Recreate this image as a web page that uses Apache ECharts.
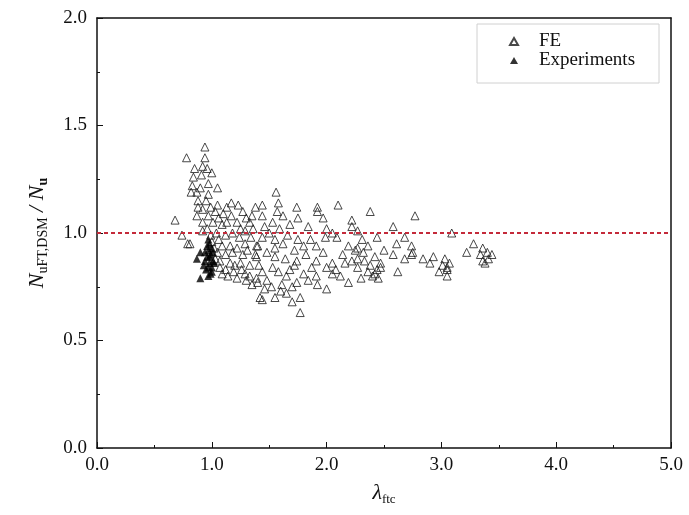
<!DOCTYPE html>
<html>
<head>
<meta charset="utf-8">
<script src="https://cdn.jsdelivr.net/npm/echarts@6.0.0/dist/echarts.min.js"></script>
<style>
  body { margin: 0; background: #fff; }
  #chart { width: 689px; height: 515px; }
</style>
</head>
<body>
<div id="chart"></div>
<script>
// FE results (lambda, ratio)
var feLambda = [
  0.68, 0.74, 0.81, 0.78, 0.94, 0.94, 0.85, 0.92, 0.84, 0.91, 1.00, 0.83, 0.97, 1.05, 0.87, 0.97,
  0.88, 0.88, 0.92, 1.05, 1.13, 1.23, 0.87, 0.97, 1.03, 1.10, 1.17, 1.30, 1.38, 0.92, 1.01, 1.09,
  1.22, 1.33, 0.92, 1.04, 1.18, 1.29, 0.79, 1.00, 1.09, 1.16, 1.29, 1.39, 1.05, 1.18, 1.27, 1.38,
  1.07, 1.16, 1.25, 1.33, 1.07, 1.12, 1.19, 1.26, 1.33, 1.39, 1.42,
  0.95, 0.99, 1.06, 1.13, 0.96, 1.12, 1.24, 1.34, 1.02, 1.12, 1.22, 1.31, 1.03, 1.20, 1.29, 1.14,
  1.22, 1.35, 1.30, 1.09, 1.17, 1.27, 1.35, 0.90, 0.96, 0.82, 0.99, 1.06, 1.25, 1.36, 1.41, 1.44, 1.46,
  1.56, 1.44, 1.58, 1.74, 1.92, 2.10, 1.57, 1.75, 1.92, 1.97, 2.22, 1.44, 1.53, 1.59, 1.68, 2.00,
  2.22, 1.44, 1.55, 1.66, 1.75, 1.86, 1.99, 2.09, 2.19, 1.40, 1.55, 1.72, 1.91, 1.97, 2.25, 1.39,
  1.55, 1.74, 1.91, 2.16, 2.22, 1.53, 1.72, 1.87, 2.00, 2.05, 1.48, 1.65, 1.74, 1.91, 2.12, 2.19,
  1.40, 1.61, 1.92, 2.00, 1.44, 1.55, 1.65, 1.77, 1.77,
  1.50, 1.62, 1.80, 1.48, 1.64, 1.82, 1.58, 1.68, 1.80, 1.52, 1.70, 1.84, 1.60, 2.05, 2.14, 1.46,
  1.62, 1.84, 2.05, 1.70, 2.08,
  2.38, 2.77, 2.58, 2.27, 2.44, 2.68, 3.09, 2.31, 2.61, 2.74, 2.27, 2.32, 2.58, 2.75, 2.27, 2.33,
  2.68, 2.74, 2.84, 2.93, 3.03, 2.27, 2.38, 2.44, 2.90, 3.01, 3.05, 2.40, 2.45, 2.62, 3.05,
  2.36, 2.42, 2.47, 2.36, 2.30, 2.50, 2.42, 2.98, 3.07, 2.47,
  3.28, 3.22, 3.36, 3.34, 3.40, 3.36, 3.41, 3.38, 3.44, 3.05
];
var feRatio = [
  1.06, 0.99, 0.95, 1.35, 1.40, 1.35, 1.30, 1.31, 1.26, 1.27, 1.28, 1.22, 1.23, 1.21, 1.19, 1.18,
  1.15, 1.12, 1.11, 1.13, 1.12, 1.13, 1.08, 1.08, 1.10, 1.09, 1.08, 1.07, 1.12, 1.05, 1.05, 1.04,
  1.05, 1.05, 1.01, 1.00, 1.00, 1.01, 0.95, 0.96, 0.94, 0.94, 0.95, 0.94, 0.91, 0.91, 0.90, 0.90,
  0.87, 0.86, 0.86, 0.85, 0.84, 0.83, 0.82, 0.83, 0.80, 0.79, 0.70,
  1.15, 1.12, 1.07, 1.05, 1.02, 0.99, 0.98, 0.98, 0.93, 0.90, 0.93, 0.92, 0.88, 0.85, 0.81, 0.80,
  0.79, 0.76, 0.78, 0.81, 1.14, 1.10, 1.08, 1.21, 1.30, 1.19, 0.99, 0.97, 1.02, 1.02, 0.85, 0.82, 0.74,
  1.19, 1.13, 1.14, 1.12, 1.12, 1.13, 1.10, 1.07, 1.10, 1.07, 1.06, 1.08, 1.05, 1.02, 1.04, 1.02,
  1.03, 0.98, 0.97, 0.99, 0.97, 0.97, 0.98, 0.98, 0.94, 0.94, 0.93, 0.92, 0.94, 0.91, 0.92, 0.89,
  0.89, 0.87, 0.87, 0.86, 0.87, 0.84, 0.85, 0.84, 0.84, 0.86, 0.78, 0.80, 0.77, 0.80, 0.80, 0.77,
  0.77, 0.76, 0.76, 0.74, 0.69, 0.70, 0.72, 0.70, 0.63,
  1.00, 0.95, 0.94, 0.91, 0.88, 0.90, 0.82, 0.83, 0.81, 0.75, 0.75, 0.78, 0.73, 0.81, 0.90, 1.03,
  1.08, 1.03, 1.00, 0.68, 0.83,
  1.10, 1.08, 1.03, 1.01, 0.98, 0.98, 1.00, 0.97, 0.95, 0.94, 0.93, 0.91, 0.90, 0.91, 0.88, 0.87,
  0.88, 0.90, 0.88, 0.89, 0.88, 0.84, 0.85, 0.83, 0.86, 0.85, 0.83, 0.80, 0.79, 0.82, 0.80,
  0.94, 0.89, 0.86, 0.82, 0.79, 0.92, 0.81, 0.82, 0.86, 0.84,
  0.95, 0.91, 0.93, 0.90, 0.91, 0.87, 0.88, 0.86, 0.90, 0.84
];
// test results
var expLambda = [
  0.90, 0.97, 0.87, 0.94, 0.98, 0.97, 1.00, 0.90, 0.97, 0.94, 0.98, 1.00,
  0.96, 0.97, 0.99, 1.01, 0.95, 0.93, 1.00, 0.99, 1.02, 0.96, 0.98, 1.01
];
var expRatio = [
  0.91, 0.92, 0.88, 0.87, 0.86, 0.84, 0.82, 0.79, 0.80, 0.91, 0.89, 0.84,
  0.94, 0.97, 0.90, 0.87, 0.83, 0.85, 0.93, 0.81, 0.86, 0.89, 0.95, 0.91
];
var xTicks = ['0.0', '1.0', '2.0', '3.0', '4.0', '5.0'];
var yTicks = ['0.0', '0.5', '1.0', '1.5', '2.0'];

function pairs(xs, ys) {
  var out = [];
  for (var i = 0; i < xs.length; i++) {
    out.push([xs[i], ys[i]]);
  }
  return out;
}

function initChart(dom) {
  var myChart = echarts.init(dom),
    serif = '"Liberation Serif", "DejaVu Serif", serif',
    option = {
      animation: false,
      backgroundColor: '#fff',
      textStyle: { fontFamily: serif },
      grid: { left: 97, right: 18, top: 18, bottom: 67 },
      legend: {
        orient: 'vertical',
        left: 477,
        top: 24,
        padding: [8, 24, 13, 32],
        borderColor: '#d0d0d0',
        borderWidth: 1,
        itemGap: 0,
        itemWidth: 8,
        itemHeight: 7,
        textStyle: { fontFamily: serif, fontSize: 19, color: '#111', padding: [0, 0, 0, 16] },
        data: ['FE', 'Experiments']
      },
      xAxis: [{
        type: 'value',
        min: 0,
        max: 5,
        interval: 1,
        name: '{l|λ}{s|ftc}',
        nameLocation: 'middle',
        nameGap: 32,
        nameTextStyle: {
          rich: {
            l: { fontFamily: serif, fontStyle: 'italic', fontSize: 22, color: '#111', lineHeight: 26 },
            s: { fontFamily: serif, fontSize: 13, color: '#111', verticalAlign: 'bottom', lineHeight: 14 }
          }
        },
        axisLine: { lineStyle: { color: '#111', width: 1.5 } },
        axisTick: { inside: true, length: 6, lineStyle: { color: '#111' } },
        minorTick: { show: true, splitNumber: 2, length: 3, lineStyle: { color: '#111' } },
        splitLine: { show: false },
        axisLabel: {
          margin: 8,
          fontSize: 19,
          color: '#111',
          formatter: function (v) { return xTicks[Math.round(v)]; }
        }
      }, {
        type: 'value',
        position: 'top',
        min: 0,
        max: 5,
        axisLine: { show: true, onZero: false, lineStyle: { color: '#111', width: 1.5 } },
        axisTick: { show: false },
        axisLabel: { show: false },
        splitLine: { show: false }
      }],
      yAxis: [{
        type: 'value',
        min: 0,
        max: 2,
        interval: 0.5,
        name: '{n|N}{s|uFT,DSM}{n| / N}{b|u}',
        nameLocation: 'middle',
        nameGap: 47,
        nameTextStyle: {
          rich: {
            n: { fontFamily: serif, fontStyle: 'italic', fontSize: 22, color: '#111', lineHeight: 26 },
            s: { fontFamily: serif, fontSize: 14, color: '#111', verticalAlign: 'bottom', lineHeight: 14 },
            b: { fontFamily: serif, fontSize: 14, fontWeight: 'bold', color: '#111', verticalAlign: 'bottom', lineHeight: 14 }
          }
        },
        axisLine: { show: true, lineStyle: { color: '#111', width: 1.5 } },
        axisTick: { inside: true, length: 6, lineStyle: { color: '#111' } },
        minorTick: { show: true, splitNumber: 2, length: 3, lineStyle: { color: '#111' } },
        splitLine: { show: false },
        axisLabel: {
          margin: 10,
          fontSize: 19,
          color: '#111',
          formatter: function (v) { return yTicks[Math.round(v * 2)]; }
        }
      }, {
        type: 'value',
        position: 'right',
        min: 0,
        max: 2,
        axisLine: { show: true, onZero: false, lineStyle: { color: '#111', width: 1.5 } },
        axisTick: { show: false },
        axisLabel: { show: false },
        splitLine: { show: false }
      }],
      series: [{
        name: 'FE',
        type: 'scatter',
        symbol: 'triangle',
        symbolSize: 8,
        itemStyle: { color: 'rgba(255,255,255,0)', borderColor: '#1a1a1a', borderWidth: 1 },
        data: pairs(feLambda, feRatio),
        markLine: {
          silent: true,
          symbol: ['none', 'none'],
          label: { show: false },
          lineStyle: { color: '#c42a3a', type: [4, 3], width: 2 },
          data: [{ yAxis: 1 }]
        },
        z: 3
      }, {
        name: 'Experiments',
        type: 'scatter',
        symbol: 'triangle',
        symbolSize: 8,
        itemStyle: { color: '#000' },
        data: pairs(expLambda, expRatio),
        z: 4
      }]
    };
  myChart.setOption(option, true);
}

initChart(document.getElementById('chart'));
</script>
</body>
</html>
